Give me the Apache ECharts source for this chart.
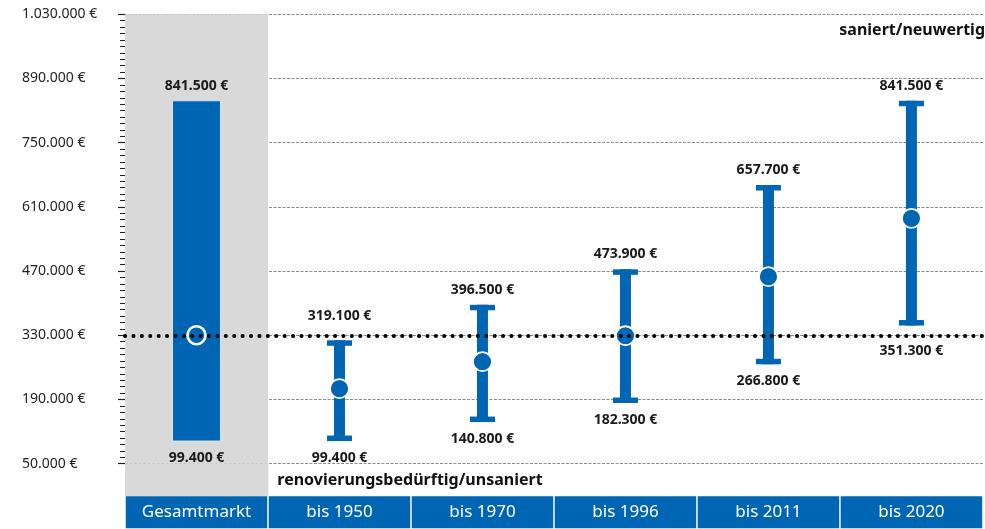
<!DOCTYPE html>
<html>
<head>
<meta charset="utf-8">
<script src="https://cdn.jsdelivr.net/npm/echarts@6/dist/echarts.min.js"></script>
<style>
  html, body { margin: 0; padding: 0; background: #fff; }
  #chart { width: 985px; height: 529px; }
</style>
</head>
<body>
<div id="chart"></div>
<script>
// ---- data ----
const categories = ['Gesamtmarkt', 'bis 1950', 'bis 1970', 'bis 1996', 'bis 2011', 'bis 2020'];
const lowValues  = [99400, 99400, 140800, 182300, 266800, 351300];
const highValues = [841500, 319100, 396500, 473900, 657700, 841500];
const midValues  = [330000, 213600, 272400, 329000, 457800, 585100];
const referenceValue = midValues[0];
const yMin = 50000, yMax = 1030000, yStep = 140000;
const lowerNote = 'renovierungsbedürftig/unsaniert';
const upperNote = 'saniert/neuwertig';

// ---- layout & styling ----
const W = 985, H = 529;
const GRID = { left: 125, right: 0, top: 14.3, bottom: 65.3 };
const LABEL_GAP = 32.6;
const BLUE = '#0066b3';
const GREY = '#d9d9d9';
const FONT = '"Noto Sans", sans-serif';

function euro(v) {
  return String(Math.round(v)).replace(/\B(?=(\d{3})+(?!\d))/g, '.') + ' €';
}

const seriesData = categories.map((c, i) => [i, lowValues[i], highValues[i], midValues[i]]);
const shadeColors = categories.map((c, i) => (i === 0 ? GREY : 'rgba(0,0,0,0)'));

const chart = echarts.init(document.getElementById('chart'), null, { renderer: 'canvas' });

function bodyRender(params, api) {
  const i = api.value(0);
  const lo = api.coord([i, api.value(1)]);
  const hi = api.coord([i, api.value(2)]);
  const x = lo[0];
  const children = [];
  if (i === 0) {
    const w = 48;
    children.push({ type: 'rect', shape: { x: x - w / 2, y: hi[1], width: w, height: lo[1] - hi[1] },
      style: { fill: BLUE, stroke: '#d6e4f2', lineWidth: 1 } });
  } else {
    const sw = 11, cw = 25, ch = 5.5;
    children.push({ type: 'rect', shape: { x: x - sw / 2, y: hi[1], width: sw, height: lo[1] - hi[1] },
      style: { fill: BLUE } });
    children.push({ type: 'rect', shape: { x: x - cw / 2, y: hi[1], width: cw, height: ch }, style: { fill: BLUE } });
    children.push({ type: 'rect', shape: { x: x - cw / 2, y: lo[1] - ch, width: cw, height: ch }, style: { fill: BLUE } });
  }
  return { type: 'group', children };
}

function markerRender(params, api) {
  const i = api.value(0);
  const lo = api.coord([i, api.value(1)]);
  const hi = api.coord([i, api.value(2)]);
  const md = api.coord([i, api.value(3)]);
  const refY = api.coord([i, referenceValue])[1];
  const x = lo[0];
  const children = [];
  if (i === 0) {
    children.push({ type: 'circle', shape: { cx: x, cy: md[1], r: 9 },
      style: { fill: BLUE, stroke: '#fff', lineWidth: 2.6 } });
  } else {
    children.push({ type: 'circle', shape: { cx: x, cy: md[1], r: 9.5 },
      style: { fill: BLUE, stroke: '#fff', lineWidth: 1.8 } });
  }
  let topY = hi[1] - 15;
  if (Math.abs(topY - refY) < 12) topY = refY - 19;
  let botY = lo[1] + 16.5;
  if (Math.abs(botY - refY) < 12) botY = refY + 16;
  const ts = { fill: '#1a1a1a', font: 'bold 14px ' + FONT, align: 'center', verticalAlign: 'middle' };
  children.push({ type: 'text', style: Object.assign({ x: x, y: topY, text: euro(api.value(2)) }, ts) });
  children.push({ type: 'text', style: Object.assign({ x: x, y: botY, text: euro(api.value(1)) }, ts) });
  return { type: 'group', children };
}

const band = (W - GRID.left - GRID.right) / categories.length;
const plotTop = GRID.top;
const plotBottom = H - GRID.bottom;
const noteStyle = { fontWeight: 'bold', fontSize: 16, fontFamily: FONT, color: '#111' };

const option = {
  animation: false,
  backgroundColor: '#fff',
  textStyle: { fontFamily: FONT },
  title: [
    { text: upperNote, right: 0, top: plotTop + 8, padding: 0, textStyle: noteStyle },
    { text: lowerNote, left: GRID.left + band + 9, top: plotBottom + 9, padding: 0, textStyle: noteStyle }
  ],
  grid: [
    { left: GRID.left, right: GRID.right, top: GRID.top, bottom: GRID.bottom, containLabel: false },
    { left: GRID.left, right: GRID.right, top: plotBottom, height: LABEL_GAP, containLabel: false }
  ],
  xAxis: [
    {
      type: 'category',
      gridIndex: 0,
      data: categories,
      boundaryGap: true,
      axisLine: { show: false },
      axisTick: { show: false },
      splitLine: { show: false },
      splitArea: { show: true, areaStyle: { color: shadeColors } },
      axisLabel: {
        interval: 0,
        margin: LABEL_GAP,
        color: '#fff',
        fontSize: 17,
        fontFamily: FONT,
        backgroundColor: BLUE,
        width: 141.5,
        height: 32,
        lineHeight: 32,
        align: 'center',
        verticalAlign: 'top'
      }
    },
    {
      type: 'category',
      gridIndex: 1,
      data: categories,
      boundaryGap: true,
      axisLine: { show: false },
      axisTick: { show: false },
      axisLabel: { show: false },
      splitLine: { show: false },
      splitArea: { show: true, areaStyle: { color: shadeColors } }
    }
  ],
  yAxis: [
    {
      type: 'value',
      gridIndex: 0,
      min: yMin,
      max: yMax,
      interval: yStep,
      axisLine: { show: true, lineStyle: { color: '#222', width: 1, opacity: 0 } },
      axisTick: { show: true, length: 7, lineStyle: { color: '#222', width: 1.2 } },
      minorTick: { show: true, splitNumber: 10, length: 5, lineStyle: { color: '#222', width: 1 } },
      splitLine: { show: true, lineStyle: { color: '#8a8a8a', width: 1, type: [3, 1.5] } },
      axisLabel: {
        align: 'left',
        margin: 103,
        color: '#222',
        fontSize: 14,
        fontFamily: FONT,
        formatter: v => euro(v)
      }
    },
    {
      type: 'value',
      gridIndex: 1,
      show: false,
      min: 0,
      max: 1
    }
  ],
  series: [
    {
      type: 'custom',
      name: 'body',
      z: 2,
      renderItem: bodyRender,
      data: seriesData,
      encode: { x: 0, y: [1, 2] },
      silent: true
    },
    {
      type: 'line',
      name: 'ref',
      z: 3,
      data: [],
      markLine: {
        silent: true,
        symbol: 'none',
        label: { show: false },
        lineStyle: { color: '#000', width: 4, type: [0.1, 8.3], cap: 'round' },
        data: [{ yAxis: referenceValue }]
      }
    },
    {
      type: 'custom',
      name: 'marker',
      z: 4,
      renderItem: markerRender,
      data: seriesData,
      encode: { x: 0, y: [1, 2] },
      silent: true
    }
  ]
};

chart.setOption(option);
</script>
</body>
</html>
